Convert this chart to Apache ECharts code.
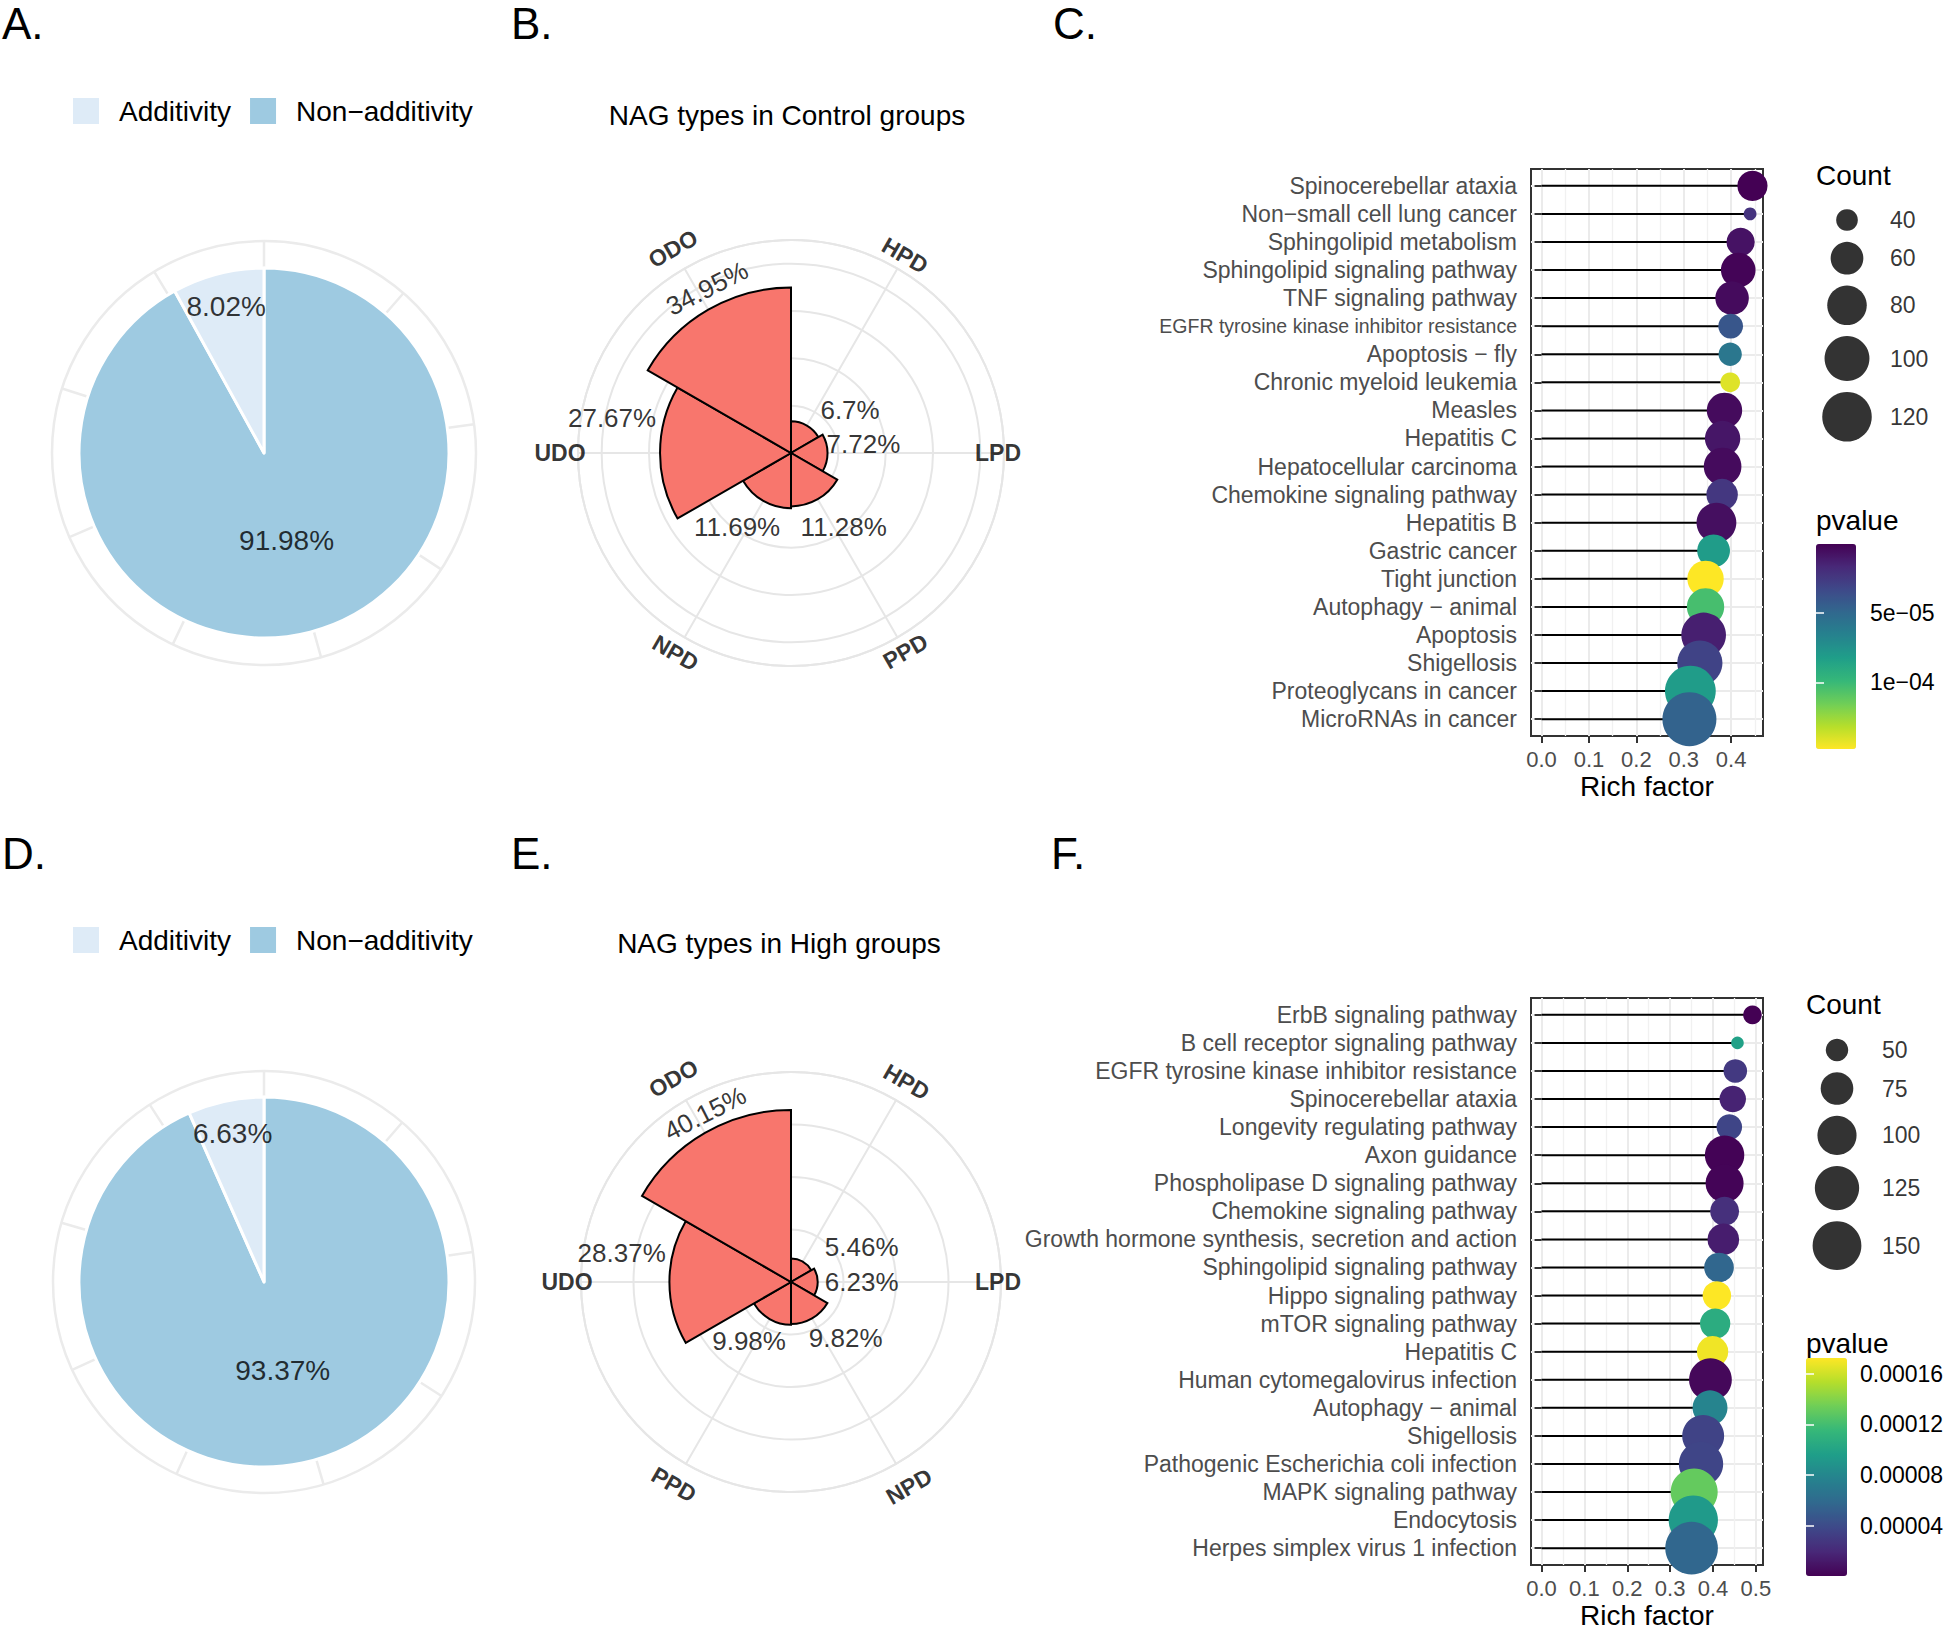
<!DOCTYPE html>
<html>
<head>
<meta charset="utf-8">
<script src="https://cdn.jsdelivr.net/npm/echarts@6.0.0/dist/echarts.min.js"></script>
<style>
html,body{margin:0;padding:0;background:#ffffff;}
#chart{width:1946px;height:1631px;}
</style>
</head>
<body>
<div id="chart"></div>
<script>
// ================= DATA =================
const pieNames = ['Additivity', 'Non\u2212additivity'];
const pieValuesA = [8.02, 91.98];
const pieValuesD = [6.63, 93.37];

const roseCatsB = ['HPD', 'LPD', 'PPD', 'NPD', 'UDO', 'ODO'];
const roseValsB = [6.7, 7.72, 11.28, 11.69, 27.67, 34.95];
const roseCatsE = ['HPD', 'LPD', 'NPD', 'PPD', 'UDO', 'ODO'];
const roseValsE = [5.46, 6.23, 9.82, 9.98, 28.37, 40.15];

const termsC = ['Spinocerebellar ataxia', 'Non\u2212small cell lung cancer', 'Sphingolipid metabolism',
  'Sphingolipid signaling pathway', 'TNF signaling pathway', 'EGFR tyrosine kinase inhibitor resistance',
  'Apoptosis \u2212 fly', 'Chronic myeloid leukemia', 'Measles', 'Hepatitis C', 'Hepatocellular carcinoma',
  'Chemokine signaling pathway', 'Hepatitis B', 'Gastric cancer', 'Tight junction', 'Autophagy \u2212 animal',
  'Apoptosis', 'Shigellosis', 'Proteoglycans in cancer', 'MicroRNAs in cancer'];
const richC = [0.445, 0.440, 0.420, 0.415, 0.402, 0.399, 0.398, 0.398, 0.386, 0.382,
  0.382, 0.381, 0.369, 0.363, 0.346, 0.346, 0.342, 0.334, 0.314, 0.312];
const countC = [54, 35, 50, 65, 62, 44, 42, 38, 67, 67, 74, 57, 81, 60, 70, 73, 99, 101, 126, 142];
const pvalC = [2e-7, 2.2e-5, 7.4e-6, 1.5e-6, 4.4e-6, 4.0e-5, 5.9e-5, 1.41e-4, 4.4e-6, 8.9e-6,
  4.4e-6, 2.4e-5, 5.9e-6, 8.1e-5, 1.48e-4, 1.04e-4, 1.3e-5, 3.0e-5, 8.1e-5, 4.7e-5];
const xTicksC = [0, 0.1, 0.2, 0.3, 0.4];
const sizeBreaksC = [40, 60, 80, 100, 120];
const pBreaksC = [5e-5, 1e-4];

const termsF = ['ErbB signaling pathway', 'B cell receptor signaling pathway', 'EGFR tyrosine kinase inhibitor resistance',
  'Spinocerebellar ataxia', 'Longevity regulating pathway', 'Axon guidance', 'Phospholipase D signaling pathway',
  'Chemokine signaling pathway', 'Growth hormone synthesis, secretion and action', 'Sphingolipid signaling pathway',
  'Hippo signaling pathway', 'mTOR signaling pathway', 'Hepatitis C', 'Human cytomegalovirus infection',
  'Autophagy \u2212 animal', 'Shigellosis', 'Pathogenic Escherichia coli infection', 'MAPK signaling pathway',
  'Endocytosis', 'Herpes simplex virus 1 infection'];
const richF = [0.492, 0.457, 0.452, 0.446, 0.438, 0.427, 0.427, 0.427, 0.424, 0.414,
  0.409, 0.405, 0.399, 0.394, 0.393, 0.377, 0.372, 0.356, 0.354, 0.350];
const countF = [45, 42, 52, 58, 56, 101, 95, 64, 72, 66, 63, 68, 71, 117, 83, 113, 125, 140, 153, 174];
const pvalF = [3e-7, 9.8e-5, 2.9e-5, 1.7e-5, 3.6e-5, 1.1e-6, 2.0e-6, 2.4e-5, 1.4e-5, 5.7e-5,
  1.725e-4, 1.07e-4, 1.69e-4, 3.7e-6, 7.8e-5, 3.5e-5, 3.6e-5, 1.31e-4, 9.3e-5, 5.7e-5];
const xTicksF = [0, 0.1, 0.2, 0.3, 0.4, 0.5];
const sizeBreaksF = [50, 75, 100, 125, 150];
const pBreaksF = [4e-5, 8e-5, 1.2e-4, 1.6e-4];

// ================= STYLE / LAYOUT =================
const FONT = '"Liberation Sans", Arial, Helvetica, sans-serif';
const viridis = ['#440154', '#482878', '#3e4989', '#31688e', '#26828e', '#1f9e89', '#35b779', '#6ece58', '#b5de2b', '#fde725'];
const pieColors = ['#deebf7', '#9ecae1'];
const roseFill = '#F8766D';
const gridGray = '#ebebeb';

const pieLayoutA = { center: [264, 453], r: 185, ring: 212, gridStep: 41.1 };
const pieLayoutD = { center: [264, 1282], r: 185, ring: 211, gridStep: 40.9 };
const pieLabelRadius = [0.82, 0.49];   // fraction of pie radius, per pieNames

const roseLayoutB = { center: [791, 453], r: 213, rMax: 45, rStep: 10,
  valLab: [{ r: 73, a: 54 }, { r: 73, a: 83 }, { r: 90.6, a: 144.4 }, { r: 91.3, a: 216.2 }, { r: 182.3, a: 281 }, { r: 184.9, a: 333, rot: 27 }],
  catR: [228, 207, 229, 231, 231, 236] };
const roseLayoutE = { center: [791, 1282], r: 210, rMax: 49, rStep: 12.25,
  valLab: [{ r: 78.7, a: 63.9 }, { r: 70.7, a: 90 }, { r: 78.5, a: 135.8 }, { r: 72.4, a: 215.4 }, { r: 171.8, a: 279.8 }, { r: 189.3, a: 333, rot: 27 }],
  catR: [231, 207, 236, 234, 224, 235] };
const catRot = [-30, 0, 30, -30, 0, 30];
const LABEL_POLAR_R = 280;

function sizeFn(counts, dMin, dMax) {
  const lo = Math.min(...counts), hi = Math.max(...counts);
  return c => dMin + (dMax - dMin) * Math.sqrt(Math.max(0, (c - lo) / (hi - lo)));
}
const sizeC = sizeFn(countC, 12.8, 54);
const sizeF = sizeFn(countF, 12.6, 52.6);

function sciFmt(v) {
  const s = v.toExponential(0).split('e');
  const e = parseInt(s[1], 10);
  return s[0] + 'e' + (e < 0 ? '\u2212' : '+') + String(Math.abs(e)).padStart(2, '0');
}

// ================= BUILD =================
const polar = [], angleAxis = [], radiusAxis = [], series = [];
const grid = [], xAxis = [], yAxis = [], visualMap = [], legend = [];

function hiddenPolar(center, r, rMax) {
  polar.push({ center: center, radius: r });
  const pi = polar.length - 1;
  angleAxis.push({ polarIndex: pi, type: 'value', min: 0, max: 360, startAngle: 90, clockwise: true, show: false });
  radiusAxis.push({ polarIndex: pi, type: 'value', min: 0, max: rMax, show: false });
  return pi;
}

function labelSeries(pi, items, style) {
  series.push({
    type: 'scatter', coordinateSystem: 'polar', polarIndex: pi, silent: true,
    symbol: 'circle', symbolSize: 1, itemStyle: { color: 'rgba(0,0,0,0)' },
    label: Object.assign({ show: true, position: 'inside', formatter: '{b}', color: '#000', fontFamily: FONT }, style),
    labelLayout: { hideOverlap: false },
    data: items.map(it => ({ name: it.text, value: [it.r, it.a], label: { rotate: it.rot || 0 } }))
  });
}

function buildPie(values, lay, legendTop) {
  polar.push({ center: lay.center, radius: lay.ring });
  const pi = polar.length - 1;
  angleAxis.push({ polarIndex: pi, type: 'value', min: 0, max: 360, interval: lay.gridStep, startAngle: 90, clockwise: true,
    axisLine: { show: true, lineStyle: { color: gridGray, width: 2.5 } }, axisTick: { show: false }, axisLabel: { show: false },
    splitLine: { show: true, lineStyle: { color: gridGray, width: 2.5 } } });
  radiusAxis.push({ polarIndex: pi, type: 'value', min: 0, max: lay.ring, show: false });
  const order = [1, 0];
  series.push({
    type: 'pie', center: lay.center, radius: lay.r, startAngle: 90, clockwise: true, silent: true,
    label: { show: false }, labelLine: { show: false },
    itemStyle: { borderColor: '#ffffff', borderWidth: 3 },
    data: order.map(i => ({ name: pieNames[i], value: values[i], itemStyle: { color: pieColors[i] } }))
  });
  const total = values.reduce((a, b) => a + b, 0);
  let acc = 0;
  const items = [];
  order.forEach(i => {
    const mid = (acc + values[i] / 2) / total * 360;
    acc += values[i];
    items.push({ text: values[i].toFixed(2) + '%', r: pieLabelRadius[i] * lay.r, a: mid });
  });
  labelSeries(pi, items, { fontSize: 28 });
  legend.push({
    data: pieNames.slice(), left: 71, top: legendTop, orient: 'horizontal', icon: 'rect',
    itemWidth: 28, itemHeight: 28, itemGap: 17, selectedMode: false, padding: 0,
    textStyle: { fontSize: 28, color: '#000', fontFamily: FONT, padding: [0, 0, 0, 14] }
  });
}

function buildRose(cats, vals, lay) {
  polar.push({ center: lay.center, radius: lay.r });
  let pi = polar.length - 1;
  angleAxis.push({ polarIndex: pi, type: 'value', min: 0, max: 360, interval: 360 / cats.length,
    startAngle: 90 - 180 / cats.length, clockwise: true,
    axisLine: { show: true, lineStyle: { color: '#e6e6e6', width: 2 } }, axisTick: { show: false }, axisLabel: { show: false },
    splitLine: { show: true, lineStyle: { color: '#e6e6e6', width: 2 } } });
  radiusAxis.push({ polarIndex: pi, type: 'value', min: 0, max: lay.rMax, interval: lay.rStep,
    axisLine: { show: false }, axisTick: { show: false }, axisLabel: { show: false },
    splitLine: { show: true, lineStyle: { color: '#e6e6e6', width: 2 } } });
  polar.push({ center: lay.center, radius: lay.r });
  pi = polar.length - 1;
  angleAxis.push({ polarIndex: pi, type: 'category', data: cats, startAngle: 90, clockwise: true, boundaryGap: true,
    axisLine: { show: false }, axisTick: { show: false }, axisLabel: { show: false }, splitLine: { show: false } });
  radiusAxis.push({ polarIndex: pi, type: 'value', min: 0, max: lay.rMax, show: false });
  series.push({ type: 'bar', coordinateSystem: 'polar', polarIndex: pi, data: vals, barCategoryGap: '0%', silent: true,
    itemStyle: { color: roseFill, borderColor: '#000', borderWidth: 2 } });
  // labels polar: radius expressed in px
  const lp = hiddenPolar(lay.center, LABEL_POLAR_R, LABEL_POLAR_R);
  labelSeries(lp, vals.map((v, i) => ({ text: v + '%', r: lay.valLab[i].r, a: lay.valLab[i].a, rot: lay.valLab[i].rot })), { fontSize: 26 });
  labelSeries(lp, cats.map((c, i) => ({ text: c, r: lay.catR[i], a: (i + 0.5) * 360 / cats.length, rot: catRot[i] })),
    { fontSize: 23, fontWeight: 'bold' });
}

function buildLollipop(opt) {
  const n = opt.terms.length;
  const M = Math.max(...opt.rich);
  const xmin = -0.05 * M, xmax = 1.05 * M;
  const rows = opt.terms.map((_, i) => i + 1);
  const minors = opt.xTicks.map(v => v + 0.05).filter(v => v < xmax);
  grid.push({ left: opt.left, top: opt.top, width: opt.width, height: opt.height, show: true,
    borderColor: '#333333', borderWidth: 2, backgroundColor: 'rgba(0,0,0,0)', containLabel: false, outerBoundsMode: 'none' });
  const gi = grid.length - 1;
  xAxis.push({ gridIndex: gi, type: 'value', min: xmin, max: xmax, position: 'bottom',
    axisLine: { show: false },
    axisTick: { show: true, length: 7, customValues: opt.xTicks, lineStyle: { color: '#333333', width: 2 } },
    axisLabel: { show: true, customValues: opt.xTicks, formatter: v => Number(v).toFixed(1), fontSize: 22, color: '#4d4d4d', margin: 12, fontFamily: FONT },
    splitLine: { show: true, lineStyle: { color: gridGray, width: 2 } },
    name: 'Rich factor', nameLocation: 'middle', nameGap: 36,
    nameTextStyle: { fontSize: 28, color: '#000', fontFamily: FONT } });
  const xi = xAxis.length - 1;
  xAxis.push({ gridIndex: gi, type: 'value', min: xmin, max: xmax, position: 'top',
    axisLine: { show: false }, axisTick: { show: false, customValues: minors }, axisLabel: { show: false },
    splitLine: { show: true, lineStyle: { color: '#f1f1f1', width: 1.3 } } });
  yAxis.push({ gridIndex: gi, type: 'value', min: 0.4, max: n + 0.6, inverse: true,
    axisLine: { show: false },
    axisTick: { show: true, length: 7, customValues: rows, lineStyle: { color: '#333333', width: 2 } },
    axisLabel: { show: true, customValues: rows, margin: 14, fontSize: 23, color: '#4d4d4d', fontFamily: FONT,
      formatter: v => { const t = opt.terms[Math.round(v) - 1]; return (opt.narrow.indexOf(Math.round(v) - 1) >= 0) ? '{n|' + t + '}' : t; },
      rich: { n: { fontSize: 19.5, color: '#4d4d4d', fontFamily: FONT } } },
    splitLine: { show: true, lineStyle: { color: gridGray, width: 2 } } });
  const yi = yAxis.length - 1;
  series.push({ type: 'custom', xAxisIndex: xi, yAxisIndex: yi, silent: true,
    data: opt.terms.map((t, i) => [opt.rich[i], i + 1]),
    renderItem: (params, api) => {
      const p0 = api.coord([0, api.value(1)]);
      const p1 = api.coord([api.value(0), api.value(1)]);
      return { type: 'line', shape: { x1: p0[0], y1: p0[1], x2: p1[0], y2: p1[1] }, style: { stroke: '#000', lineWidth: 2 } };
    } });
  series.push({ type: 'scatter', xAxisIndex: xi, yAxisIndex: yi, silent: true,
    data: opt.terms.map((t, i) => [opt.rich[i], i + 1, opt.count[i], opt.pval[i]]),
    symbolSize: v => opt.size(v[2]), itemStyle: { opacity: 1 } });
  const dotsIdx = series.length - 1;
  const pmin = Math.min(...opt.pval), pmax = Math.max(...opt.pval);
  visualMap.push({ type: 'continuous', seriesIndex: dotsIdx, dimension: 3, min: pmin, max: pmax,
    inRange: { color: viridis }, inverse: opt.cbInverse, calculable: false, orient: 'vertical',
    itemWidth: opt.cb.w, itemHeight: opt.cb.h, left: opt.cb.left, top: opt.cb.top, padding: 0, hoverLink: false });
  grid.push({ left: opt.cb.left, top: opt.cb.top, width: opt.cb.w, height: opt.cb.h, show: false, containLabel: false, outerBoundsMode: 'none' });
  const cg = grid.length - 1;
  xAxis.push({ gridIndex: cg, type: 'value', min: 0, max: 1, show: false });
  const tickCommon = { show: true, inside: true, length: 8, customValues: opt.pBreaks, lineStyle: { color: '#ffffff', width: 1.5 } };
  yAxis.push({ gridIndex: cg, type: 'value', min: pmin, max: pmax, inverse: opt.cbInverse, position: 'right', z: 10,
    axisLine: { show: false }, axisTick: tickCommon,
    axisLabel: { show: true, customValues: opt.pBreaks, formatter: opt.pFmt, margin: opt.cb.margin, fontSize: 23, color: '#000', fontFamily: FONT },
    splitLine: { show: false } });
  yAxis.push({ gridIndex: cg, type: 'value', min: pmin, max: pmax, inverse: opt.cbInverse, position: 'left', z: 10,
    axisLine: { show: false }, axisTick: tickCommon, axisLabel: { show: false }, splitLine: { show: false } });
  grid.push({ left: opt.sz.cx - 22, top: opt.sz.top, width: 44, height: 260, show: false, containLabel: false, outerBoundsMode: 'none' });
  const sg = grid.length - 1;
  xAxis.push({ gridIndex: sg, type: 'value', min: 0, max: 1, show: false });
  const sxi = xAxis.length - 1;
  yAxis.push({ gridIndex: sg, type: 'value', min: 0, max: 260, inverse: true, show: false });
  const syi = yAxis.length - 1;
  let y = opt.sz.first, prev = null;
  const legData = opt.sizeBreaks.map(c => {
    const d = opt.size(c);
    if (prev !== null) y += (prev + d) / 2 + 11;
    prev = d;
    return { name: String(c), value: [0.5, y, c] };
  });
  series.push({ type: 'scatter', xAxisIndex: sxi, yAxisIndex: syi, silent: true, data: legData,
    symbolSize: v => opt.size(v[2]), itemStyle: { color: '#000' },
    label: { show: true, position: 'inside', offset: [opt.sz.labelDx, 0], align: 'left', formatter: '{b}',
      fontSize: 23, color: '#000', fontFamily: FONT } });
}

buildPie(pieValuesA, pieLayoutA, 96);
buildPie(pieValuesD, pieLayoutD, 925);
buildRose(roseCatsB, roseValsB, roseLayoutB);
buildRose(roseCatsE, roseValsE, roseLayoutE);

buildLollipop({ terms: termsC, rich: richC, count: countC, pval: pvalC, xTicks: xTicksC, size: sizeC,
  sizeBreaks: sizeBreaksC, pBreaks: pBreaksC, pFmt: sciFmt, cbInverse: true, narrow: [5],
  left: 1531, top: 169, width: 232, height: 567,
  cb: { left: 1816, top: 544, w: 40, h: 205, margin: 14 },
  sz: { cx: 1847, top: 200, first: 20, labelDx: 43 } });
buildLollipop({ terms: termsF, rich: richF, count: countF, pval: pvalF, xTicks: xTicksF, size: sizeF,
  sizeBreaks: sizeBreaksF, pBreaks: pBreaksF, pFmt: v => Number(v).toFixed(5), cbInverse: false, narrow: [],
  left: 1531, top: 998, width: 232, height: 567,
  cb: { left: 1806, top: 1358, w: 41, h: 218, margin: 13 },
  sz: { cx: 1837, top: 1030, first: 20, labelDx: 45 } });

function txt(x, y, text, size, align, extra) {
  return Object.assign({ type: 'text', x: x, y: y, silent: true,
    style: { text: text, fontSize: size, fontFamily: FONT, fill: '#000', align: align || 'left', verticalAlign: 'middle' } }, extra || {});
}
const graphic = [
  txt(2, 23, 'A.', 44), txt(511, 23, 'B.', 44), txt(1053, 23, 'C.', 44),
  txt(2, 853, 'D.', 44), txt(511, 853, 'E.', 44), txt(1051, 853, 'F.', 44),
  txt(787, 115, 'NAG types in Control groups', 28, 'center'),
  txt(779, 943, 'NAG types in High groups', 28, 'center'),
  txt(1816, 175, 'Count', 28), txt(1816, 520, 'pvalue', 28),
  txt(1806, 1004, 'Count', 28), txt(1806, 1343, 'pvalue', 28)
];

const chart = echarts.init(document.getElementById('chart'), null, { renderer: 'svg', width: 1946, height: 1631 });
chart.setOption({
  animation: false,
  backgroundColor: '#ffffff',
  textStyle: { fontFamily: FONT },
  tooltip: { show: false },
  legend: legend,
  polar: polar, angleAxis: angleAxis, radiusAxis: radiusAxis,
  grid: grid, xAxis: xAxis, yAxis: yAxis,
  visualMap: visualMap,
  series: series,
  graphic: graphic
});
</script>
</body>
</html>
